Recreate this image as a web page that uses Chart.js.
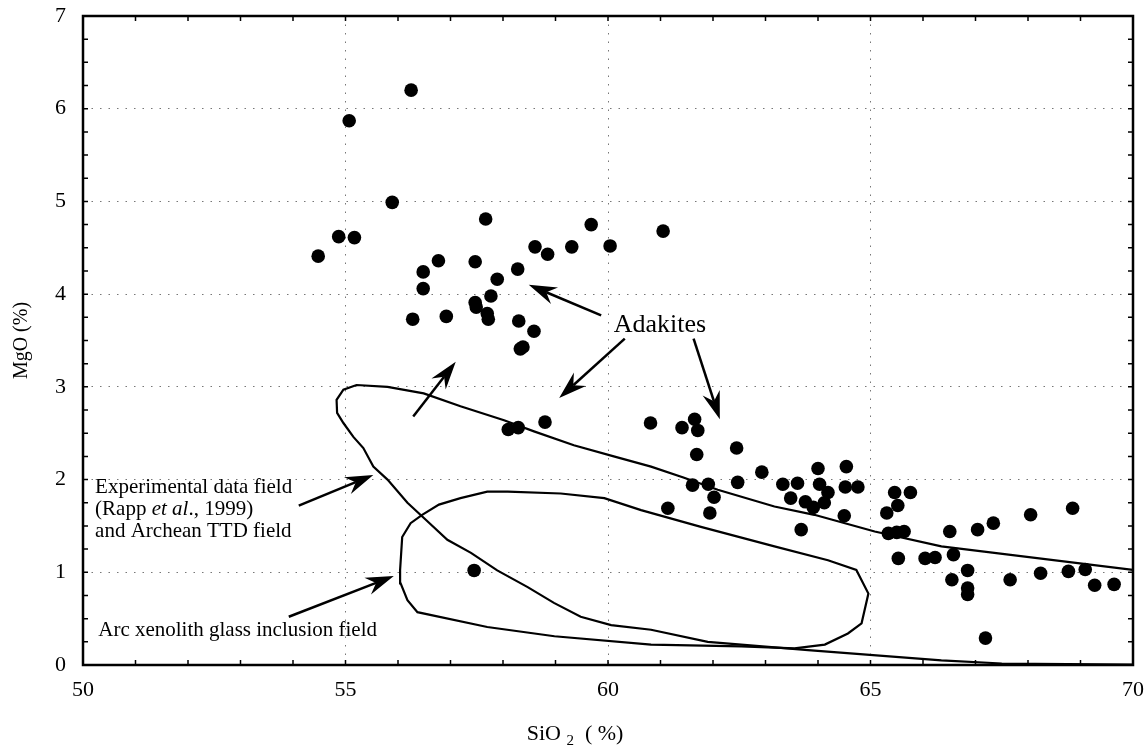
<!DOCTYPE html>
<html>
<head>
<meta charset="utf-8">
<script src="https://cdn.jsdelivr.net/npm/chart.js@4/dist/chart.umd.min.js"></script>
<style>
html,body{margin:0;padding:0;background:#fff;}
#wrap{width:1147px;height:745px;}
</style>
</head>
<body>
<div id="wrap"><canvas id="c" width="1147" height="745"></canvas></div>
<script>
// ---- data ----
const adakiteSiO2 = [54.48,54.87,55.07,55.17,55.89,56.25,56.28,56.48,56.48,56.77,56.92,57.47,57.47,57.49,57.67,57.70,57.72,57.77,57.89,58.28,58.30,58.33,58.38,58.59,58.61,58.85,59.31,59.68,60.04,61.05,58.10,58.29,58.80,57.45,
  60.81,61.41,61.65,61.71,61.69,62.45,62.93,61.61,61.91,62.02,62.47,61.94,61.14,63.33,63.61,63.48,64.00,64.03,63.76,63.91,64.19,64.12,63.68,64.54,64.52,64.76,64.50,
  65.46,65.76,65.52,65.31,65.34,65.50,65.64,65.53,66.04,66.23,66.51,66.58,66.55,66.85,66.85,66.85,67.04,67.34,67.19,67.66,68.05,68.24,68.85,68.77,69.09,69.27,69.64];
const adakiteMgO = [4.41,4.62,5.87,4.61,4.99,6.20,3.73,4.24,4.06,4.36,3.76,4.35,3.91,3.86,4.81,3.79,3.73,3.98,4.16,4.27,3.71,3.41,3.43,3.60,4.51,4.43,4.51,4.75,4.52,4.68,2.54,2.56,2.62,1.02,
  2.61,2.56,2.65,2.53,2.27,2.34,2.08,1.94,1.95,1.81,1.97,1.64,1.69,1.95,1.96,1.80,2.12,1.95,1.76,1.70,1.86,1.75,1.46,2.14,1.92,1.92,1.61,
  1.86,1.86,1.72,1.64,1.42,1.43,1.44,1.15,1.15,1.16,1.44,1.19,0.92,1.02,0.83,0.76,1.46,1.53,0.29,0.92,1.62,0.99,1.69,1.01,1.03,0.86,0.87];

// Experimental data field (Rapp et al., 1999) and Archean TTD field outline
const expFieldSiO2 = [70.0,66.35,65.08,63.93,63.17,62.09,61.45,60.82,60.11,59.35,58.59,58.02,57.19,56.49,55.80,55.21,54.96,54.83,54.84,54.96,55.15,55.34,55.53,55.80,56.18,56.56,56.94,57.39,57.89,58.47,58.97,59.48,60.06,60.82,61.90,63.81,66.35,67.50,70.0];
const expFieldMgO  = [1.025,1.28,1.44,1.62,1.71,1.89,2.02,2.14,2.25,2.37,2.52,2.64,2.79,2.93,3.00,3.02,2.97,2.86,2.72,2.61,2.46,2.34,2.14,2.00,1.75,1.55,1.35,1.21,1.02,0.84,0.67,0.52,0.43,0.38,0.25,0.16,0.05,0.016,0.005];

// Arc xenolith glass inclusion field outline (closed)
const arcFieldSiO2 = [56.04,56.08,56.24,56.46,56.78,57.19,57.70,58.09,59.10,59.93,60.63,61.77,63.17,64.19,64.73,64.96,64.83,64.57,64.13,63.55,62.54,60.82,58.98,57.70,56.37,56.18,56.05,56.04];
const arcFieldMgO  = [1.025,1.38,1.53,1.62,1.73,1.80,1.87,1.87,1.85,1.80,1.67,1.49,1.28,1.13,1.025,0.77,0.45,0.34,0.22,0.18,0.20,0.22,0.31,0.41,0.57,0.70,0.88,1.025];

const xTickValues = [50,55,60,65,70];
const yTickValues = [0,1,2,3,4,5,6,7];

// annotation arrows: [tailSiO2, tailMgO, tipSiO2, tipMgO]
const arrowSegments = [
  [59.87,3.77,58.49,4.10],
  [60.32,3.52,59.07,2.88],
  [61.63,3.52,62.13,2.65],
  [56.29,2.68,57.10,3.27],
  [54.11,1.72,55.53,2.05],
  [53.92,0.52,55.92,0.96]
];

// annotation texts (anchor in data units)
const annotationTexts = [
  {x:60.99, y:3.59, align:'center', size:26, parts:[['Adakites','']]},
  {x:50.23, y:1.855, align:'left', size:21, parts:[['Experimental data field','']]},
  {x:50.23, y:1.618, align:'left', size:21, parts:[['(Rapp ',''],['et al','italic '],['., 1999)','']]},
  {x:50.23, y:1.381, align:'left', size:21, parts:[['and Archean TTD field','']]},
  {x:50.29, y:0.313, align:'left', size:21, parts:[['Arc xenolith glass inclusion field','']]}
];

// x-axis title pieces: [text, font size, baseline shift]
const xTitleParts = [['SiO', 22, 0], [' ', 22, 0], ['2', 15, 5], ['  ( %)', 22, 0]];
const xTitleCenter = 575;   // px
const xTitleBaseline = 740; // px

const FONT = "'Liberation Serif','Times New Roman',Times,serif";

const toXY = (xs, ys) => xs.map((v, i) => ({x: v, y: ys[i]}));

const overlay = {
  id: 'overlay',
  afterDatasetsDraw(chart) {
    const {ctx, chartArea: a, scales: {x, y}} = chart;
    ctx.save();
    ctx.strokeStyle = '#000';
    ctx.fillStyle = '#000';
    // minor inward ticks
    ctx.lineWidth = 1.5;
    ctx.beginPath();
    for (let v = y.min; v <= y.max + 1e-9; v += 0.25) {
      const py = y.getPixelForValue(v);
      ctx.moveTo(a.left, py); ctx.lineTo(a.left + 5, py);
      ctx.moveTo(a.right, py); ctx.lineTo(a.right - 5, py);
    }
    for (let v = x.min; v <= x.max + 1e-9; v += 1) {
      const px = x.getPixelForValue(v);
      ctx.moveTo(px, a.bottom); ctx.lineTo(px, a.bottom - 5);
      ctx.moveTo(px, a.top); ctx.lineTo(px, a.top + 5);
    }
    ctx.stroke();
    // frame
    ctx.lineWidth = 2.5;
    ctx.strokeRect(a.left, a.top, a.right - a.left, a.bottom - a.top);
    // arrows
    ctx.lineWidth = 2.5;
    ctx.lineCap = 'butt';
    arrowSegments.forEach(s => {
      const x1 = x.getPixelForValue(s[0]), y1 = y.getPixelForValue(s[1]);
      const x2 = x.getPixelForValue(s[2]), y2 = y.getPixelForValue(s[3]);
      const dx = x2 - x1, dy = y2 - y1, len = Math.hypot(dx, dy);
      const ux = dx / len, uy = dy / len, nx = -uy, ny = ux;
      const L = 28, W = 9, N = 19;
      ctx.beginPath();
      ctx.moveTo(x1, y1);
      ctx.lineTo(x2 - ux * N, y2 - uy * N);
      ctx.stroke();
      ctx.beginPath();
      ctx.moveTo(x2, y2);
      ctx.lineTo(x2 - ux * L + nx * W, y2 - uy * L + ny * W);
      ctx.lineTo(x2 - ux * N, y2 - uy * N);
      ctx.lineTo(x2 - ux * L - nx * W, y2 - uy * L - ny * W);
      ctx.closePath();
      ctx.fill();
    });
    // texts
    ctx.textBaseline = 'alphabetic';
    ctx.textAlign = 'left';
    annotationTexts.forEach(t => {
      let px = x.getPixelForValue(t.x);
      const py = y.getPixelForValue(t.y);
      let total = 0;
      t.parts.forEach(p => { ctx.font = p[1] + t.size + 'px ' + FONT; total += ctx.measureText(p[0]).width; });
      if (t.align === 'center') px -= total / 2;
      t.parts.forEach(p => {
        ctx.font = p[1] + t.size + 'px ' + FONT;
        ctx.fillText(p[0], px, py);
        px += ctx.measureText(p[0]).width;
      });
    });
    // x-axis title with subscript
    let tw = 0;
    xTitleParts.forEach(p => { ctx.font = p[1] + 'px ' + FONT; tw += ctx.measureText(p[0]).width; });
    let tx = xTitleCenter - tw / 2;
    xTitleParts.forEach(p => {
      ctx.font = p[1] + 'px ' + FONT;
      ctx.fillText(p[0], tx, xTitleBaseline + p[2]);
      tx += ctx.measureText(p[0]).width;
    });
    ctx.restore();
  }
};

new Chart(document.getElementById('c'), {
  type: 'scatter',
  data: {
    datasets: [
      {
        label: 'Experimental field',
        data: toXY(expFieldSiO2, expFieldMgO),
        showLine: true, fill: false,
        borderColor: '#000', borderWidth: 2.2,
        pointRadius: 0, tension: 0
      },
      {
        label: 'Arc xenolith field',
        data: toXY(arcFieldSiO2, arcFieldMgO),
        showLine: true, fill: false,
        borderColor: '#000', borderWidth: 2.2,
        pointRadius: 0, tension: 0
      },
      {
        label: 'Adakites',
        data: toXY(adakiteSiO2, adakiteMgO),
        showLine: false,
        backgroundColor: '#000', borderColor: '#000', borderWidth: 0,
        pointRadius: 6.8, pointHoverRadius: 6.8
      }
    ]
  },
  options: {
    responsive: false,
    animation: false,
    devicePixelRatio: 1,
    layout: {padding: {left: 0, right: 14, top: 16, bottom: 0}},
    plugins: {legend: {display: false}, tooltip: {enabled: false}},
    scales: {
      x: {
        type: 'linear', min: 50, max: 70,
        afterBuildTicks: s => { s.ticks = xTickValues.map(v => ({value: v})); },
        afterFit: s => { s.height = 80; s.paddingLeft = 0; s.paddingRight = 0; },
        border: {display: false, dash: [1.5, 7]},
        grid: {color: '#777', lineWidth: 1, drawTicks: false},
        ticks: {color: '#000', font: {family: FONT, size: 22}, padding: 12, maxRotation: 0},
        title: {display: false}
      },
      y: {
        type: 'linear', min: 0, max: 7,
        afterBuildTicks: s => { s.ticks = yTickValues.map(v => ({value: v})); },
        afterFit: s => { s.width = 83; s.paddingTop = 0; s.paddingBottom = 0; },
        border: {display: false, dash: [1.5, 7]},
        grid: {color: '#777', lineWidth: 1, drawTicks: false},
        ticks: {color: '#000', font: {family: FONT, size: 22}, padding: 17},
        title: {display: true, text: 'MgO (%)', color: '#000', font: {family: FONT, size: 20}, padding: {top: 10, bottom: 0}}
      }
    }
  },
  plugins: [overlay]
});
</script>
</body>
</html>
